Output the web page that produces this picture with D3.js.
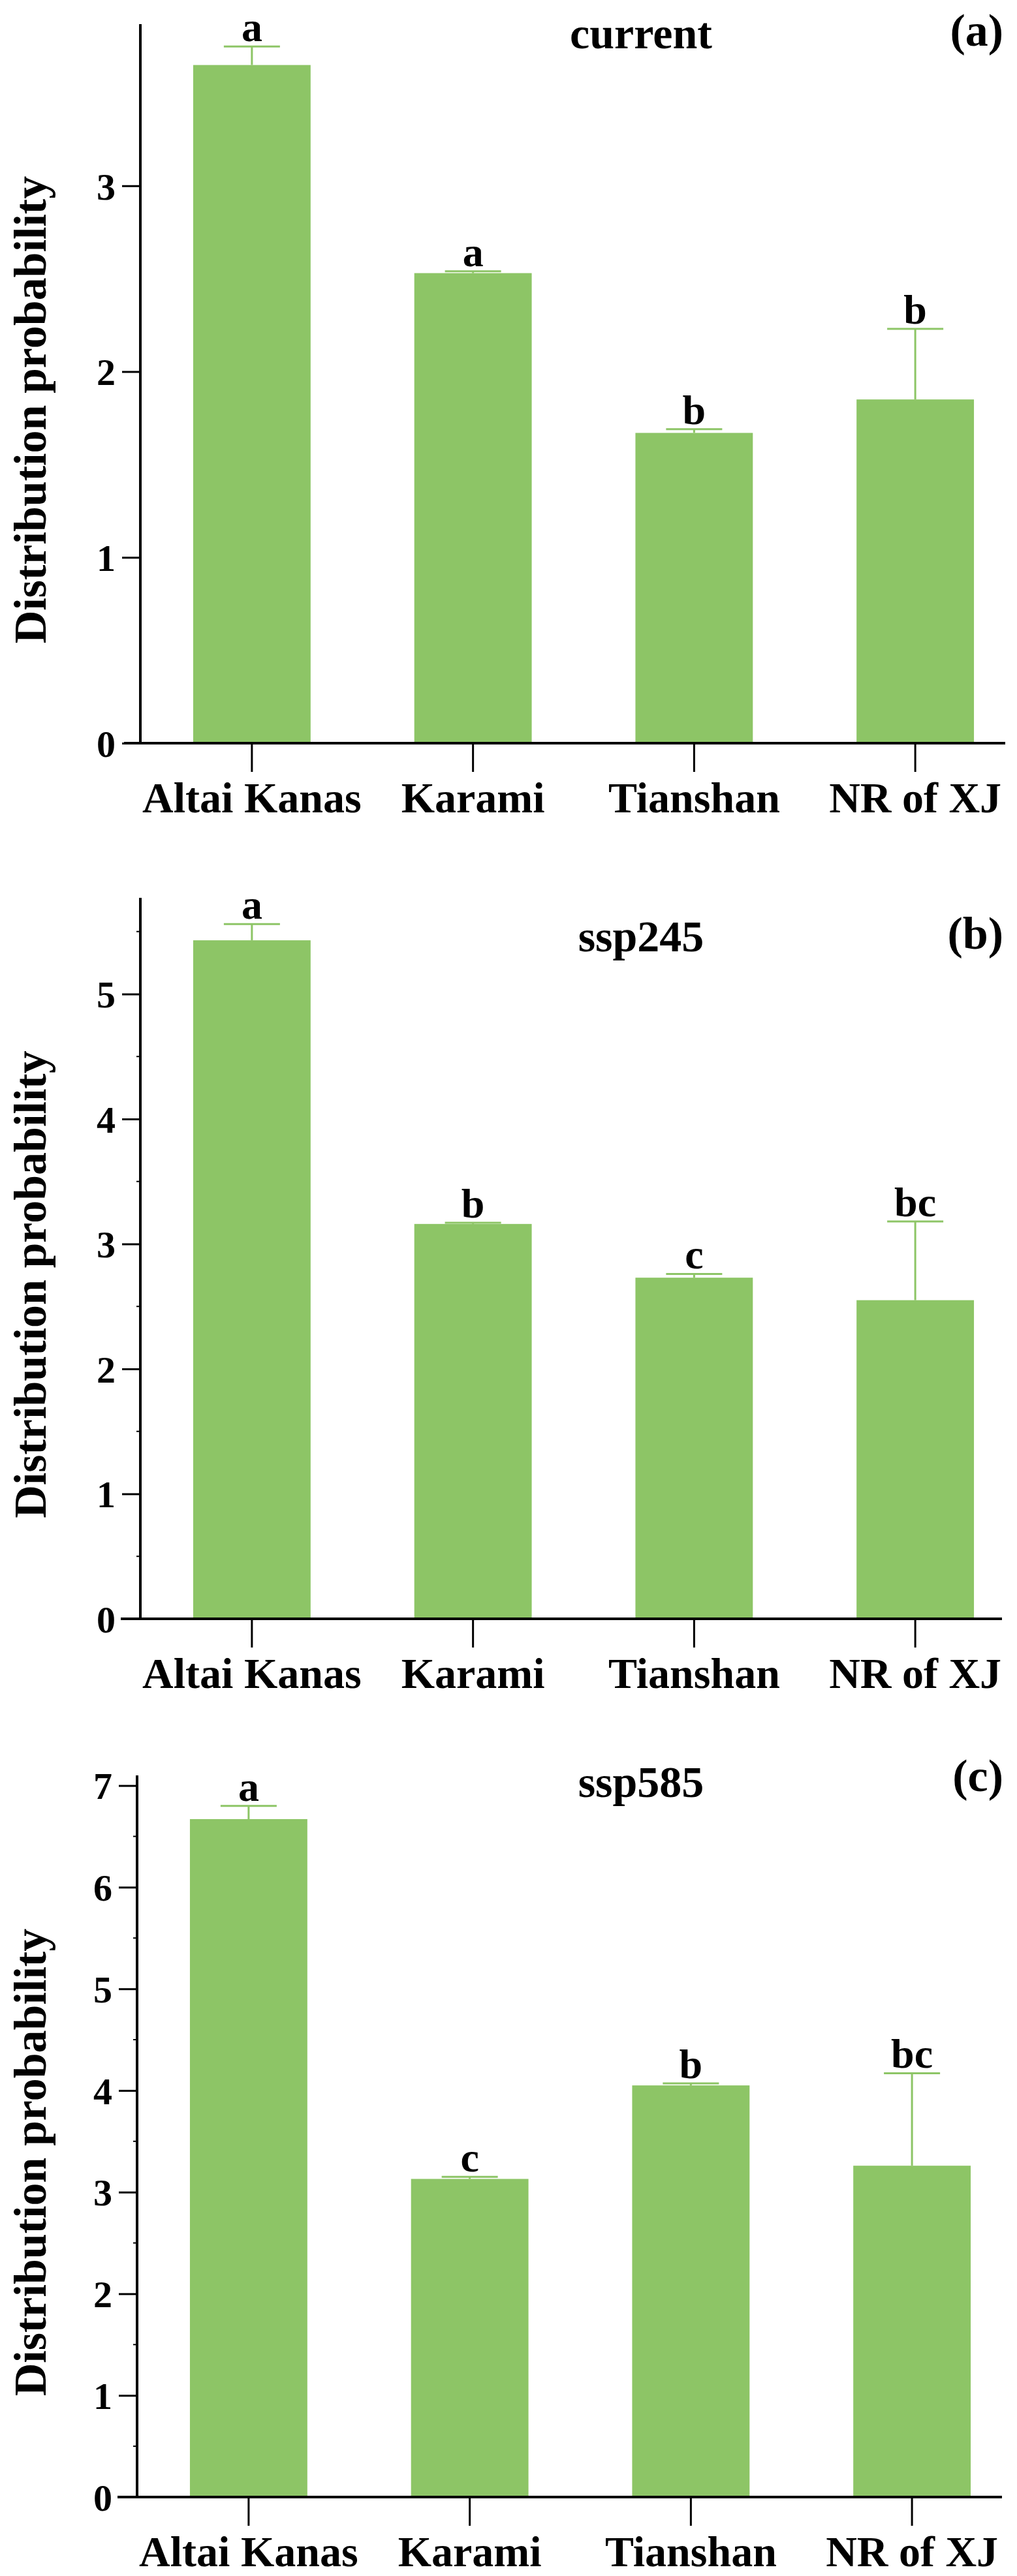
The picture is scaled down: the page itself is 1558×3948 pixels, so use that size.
<!DOCTYPE html>
<html><head><meta charset="utf-8">
<script src="https://cdn.jsdelivr.net/npm/d3@7"></script>
<style>body{margin:0;background:#fff}text{font-family:"Liberation Serif","Times New Roman",serif;font-weight:bold;fill:#000}</style>
</head><body>
<svg id="c" width="1558" height="3948"></svg>
<script>
const categories = ["Altai Kanas","Karami","Tianshan","NR of XJ"];
const currentMean = [3.65, 2.53, 1.67, 1.85];
const currentErr  = [3.75, 2.54, 1.69, 2.23];
const currentLetters = ["a","a","b","b"];
const ssp245Mean = [5.43, 3.16, 2.73, 2.55];
const ssp245Err  = [5.56, 3.17, 2.76, 3.18];
const ssp245Letters = ["a","b","c","bc"];
const ssp585Mean = [6.67, 3.13, 4.05, 3.26];
const ssp585Err  = [6.80, 3.15, 4.07, 4.17];
const ssp585Letters = ["a","c","b","bc"];
const ticksA = [0,1,2,3];
const ticksB = [0,1,2,3,4,5];
const ticksC = [0,1,2,3,4,5,6,7];

const panels = [
 {title:"current", tag:"(a)", mean:currentMean, err:currentErr, letters:currentLetters, ticks:ticksA, ymax:3.87, minor:false,
  y0:1139, ytop:37, axisX:215, xl:190, xr:1540, titleY:50, tagY:46},
 {title:"ssp245", tag:"(b)", mean:ssp245Mean, err:ssp245Err, letters:ssp245Letters, ticks:ticksB, ymax:5.77, minor:true,
  y0:2481, ytop:1376, axisX:215, xl:185, xr:1535, titleY:1434, tagY:1430},
 {title:"ssp585", tag:"(c)", mean:ssp585Mean, err:ssp585Err, letters:ssp585Letters, ticks:ticksC, ymax:7.1, minor:true,
  y0:3827, ytop:2721, axisX:210, xl:180, xr:1535, titleY:2730, tagY:2721}
];
const svg = d3.select("#c");
const green = "#8DC566";
panels.forEach(p=>{
  const g = svg.append("g");
  const y = d3.scaleLinear().domain([0,p.ymax]).range([p.y0,p.ytop]);
  const x = d3.scaleBand().domain(categories).range([p.axisX+1, p.axisX+1+1356]).paddingInner(0.469).paddingOuter(0.236);
  const data = categories.map((c,i)=>({c, m:p.mean[i], e:p.err[i], l:p.letters[i]}));
  g.selectAll("rect.bar").data(data).join("rect").attr("class","bar")
   .attr("x",d=>x(d.c)).attr("width",x.bandwidth())
   .attr("y",d=>y(d.m)).attr("height",d=>y(0)-y(d.m)).attr("fill",green);
  const cx = d=>x(d.c)+x.bandwidth()/2;
  g.selectAll("line.ev").data(data).join("line").attr("x1",cx).attr("x2",cx)
   .attr("y1",d=>y(d.m)).attr("y2",d=>y(d.e)).attr("stroke",green).attr("stroke-width",3);
  g.selectAll("line.ec").data(data).join("line").attr("x1",d=>cx(d)-43).attr("x2",d=>cx(d)+43)
   .attr("y1",d=>y(d.e)).attr("y2",d=>y(d.e)).attr("stroke",green).attr("stroke-width",3);
  g.selectAll("text.lt").data(data).join("text").attr("x",cx).attr("y",d=>y(d.e)-8)
   .attr("text-anchor","middle").attr("font-size",64).text(d=>d.l);
  const ya = d3.axisLeft(y).tickValues(p.ticks).tickSize(28).tickPadding(10).tickFormat(d3.format("d"));
  const yg = g.append("g").attr("transform",`translate(${p.axisX},0)`).call(ya);
  yg.select(".domain").remove();
  yg.selectAll(".tick line").attr("stroke","#000").attr("stroke-width",3);
  yg.selectAll(".tick text").attr("font-size",58).attr("font-family","Liberation Serif").attr("font-weight","bold").attr("dy","0.35em");
  if(p.minor){
    const mv = d3.range(0.5, p.ymax, 1);
    g.selectAll("line.mn").data(mv).join("line").attr("x1",p.axisX-6).attr("x2",p.axisX)
     .attr("y1",d=>y(d)).attr("y2",d=>y(d)).attr("stroke","#000").attr("stroke-width",2);
  }
  g.append("line").attr("x1",p.axisX).attr("x2",p.axisX).attr("y1",p.ytop).attr("y2",p.y0+2)
   .attr("stroke","#000").attr("stroke-width",4);
  g.append("line").attr("x1",p.xl).attr("x2",p.xr).attr("y1",p.y0).attr("y2",p.y0)
   .attr("stroke","#000").attr("stroke-width",4);
  g.selectAll("line.xt").data(data).join("line").attr("x1",cx).attr("x2",cx)
   .attr("y1",p.y0).attr("y2",p.y0+44).attr("stroke","#000").attr("stroke-width",3);
  g.selectAll("text.xl").data(data).join("text").attr("x",cx).attr("y",p.y0+106)
   .attr("text-anchor","middle").attr("font-size",66).text(d=>d.c);
  g.append("text").attr("transform",`translate(70,${(p.y0+p.ytop)/2+40}) rotate(-90)`)
   .attr("text-anchor","middle").attr("font-size",70).text("Distribution probability");
  g.append("text").attr("x",982).attr("y",p.titleY+24).attr("text-anchor","middle").attr("font-size",68).text(p.title);
  g.append("text").attr("x",1537).attr("y",p.tagY+24).attr("text-anchor","end").attr("font-size",70).text(p.tag);
});
</script>
</body></html>
